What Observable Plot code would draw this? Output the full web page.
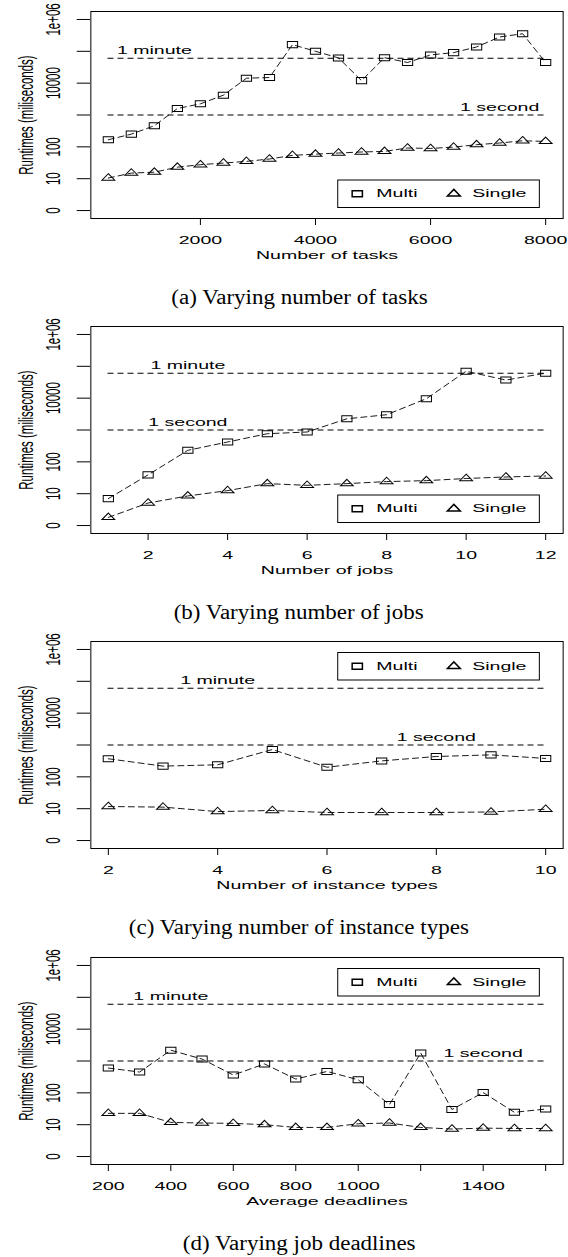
<!DOCTYPE html>
<html>
<head>
<meta charset="utf-8">
<script src="https://cdn.jsdelivr.net/npm/d3@7"></script>
<script src="https://cdn.jsdelivr.net/npm/@observablehq/plot@0.6"></script>
<style>
  body { margin: 0; background: #fff; }
  #page { position: relative; width: 568px; height: 1257px; overflow: hidden; background: #fff; }
  .panel { position: absolute; left: 0; }
  .panel svg path, .panel svg line, .panel svg rect { vector-effect: non-scaling-stroke; }
  .cap { position: absolute; left: 0; width: 598px; text-align: center;
         font-family: "Liberation Serif", "Times New Roman", serif; font-size: 20px;
         line-height: 20px; white-space: nowrap; color: #000; }
  .cap span { display: inline-block; transform: scaleX(1.15); }
</style>
</head>
<body>
<div id="page"></div>
<script>
// ---------------- data ----------------
const yTicks = [1, 10, 100, 1000, 10000, 100000, 1000000];
const yLabelValues = [1, 10, 100, 10000, 1000000];
const yLabels = ["0", "10", "100", "10000", "1e+06"];
const yTitle = "Runtimes (miliseconds)";
const minuteMs = 60000;
const secondMs = 1000;

// (a) number of tasks
const tasks = [400, 800, 1200, 1600, 2000, 2400, 2800, 3200, 3600, 4000, 4400, 4800, 5200, 5600, 6000, 6400, 6800, 7200, 7600, 8000];
const multiTasks = [167, 251, 460, 1600, 2240, 4200, 14300, 15000, 162000, 100000, 62000, 12000, 63000, 44500, 77000, 91000, 137000, 282000, 356000, 44500];
const singleTasks = [10.5, 15, 16, 23, 27.5, 31, 35, 41.5, 54, 59, 64, 69, 72, 92, 89, 98, 117, 132, 155, 148];
const tasksTicks = [2000, 4000, 6000, 8000];
const tasksTickLabels = ["2000", "4000", "6000", "8000"];

// (b) number of jobs
const jobs = [1, 2, 3, 4, 5, 6, 7, 8, 9, 10, 11, 12];
const multiJobs = [7, 39, 230, 420, 765, 865, 2250, 3020, 9600, 70000, 37000, 61000];
const singleJobs = [1.8, 5.1, 8.5, 12.5, 20.7, 18.3, 20.7, 24, 25.7, 30, 33.5, 36];
const jobsTicks = [2, 4, 6, 8, 10, 12];
const jobsTickLabels = ["2", "4", "6", "8", "10", "12"];

// (c) number of instance types
const types = [2, 3, 4, 5, 6, 7, 8, 9, 10];
const multiTypes = [370, 217, 239, 720, 200, 317, 436, 490, 378];
const singleTypes = [11.7, 11.2, 8.1, 8.8, 7.6, 7.6, 7.6, 7.9, 9.6];
const typesTicks = [2, 4, 6, 8, 10];
const typesTickLabels = ["2", "4", "6", "8", "10"];

// (d) average deadlines
const deadlines = [200, 300, 400, 500, 600, 700, 800, 900, 1000, 1100, 1200, 1300, 1400, 1500, 1600];
const multiDeadlines = [600, 450, 2180, 1150, 363, 810, 270, 470, 257, 43, 1780, 30, 102, 24.5, 31];
const singleDeadlines = [22.7, 22.7, 11.8, 11.3, 11, 10, 8.2, 8.2, 10.7, 11.3, 8.2, 7.3, 7.8, 7.6, 7.6];
const deadlinesTicks = [200, 400, 600, 800, 1000, 1200, 1400, 1600];
const deadlinesTickLabels = ["200", "400", "600", "800", "1000", "", "1400", ""];

const xTitles = ["Number of tasks", "Number of jobs", "Number of instance types", "Average deadlines"];
const captions = ["(a) Varying number of tasks", "(b) Varying number of jobs", "(c) Varying number of instance types", "(d) Varying job deadlines"];
const seriesNames = ["Multi", "Single"];
const minuteLabelX = [1200, 3, 4, 400];
const secondLabelX = [7200, 3, 8, 1400];
const legendPlacement = ["bottom", "bottom", "top", "top"];

// ---------------- layout ----------------
const W = 568, S = 1.7, W0 = W / S;
const ML = 90 / S, MR = (568 - 562.3) / S, MT = 10, FH = 207, MB = 50, H = MT + FH + MB;
const FW = W0 - ML - MR;
const panelTops = [10.5, 325.5, 641, 957];
const DASH = "6,4";
const FONT = '"Liberation Sans", Arial, Helvetica, sans-serif';

const panels = [
  {x: tasks, multi: multiTasks, single: singleTasks, ticks: tasksTicks, labels: tasksTickLabels},
  {x: jobs, multi: multiJobs, single: singleJobs, ticks: jobsTicks, labels: jobsTickLabels},
  {x: types, multi: multiTypes, single: singleTypes, ticks: typesTicks, labels: typesTickLabels},
  {x: deadlines, multi: multiDeadlines, single: singleDeadlines, ticks: deadlinesTicks, labels: deadlinesTickLabels}
];

const page = document.getElementById("page");

panels.forEach((p, k) => {
  const multiRows = p.x.map((x, i) => ({x, y: p.multi[i]}));
  const singleRows = p.x.map((x, i) => ({x, y: p.single[i]}));
  const [x0, x1] = d3.extent(p.x);
  const pad = (x1 - x0) * 0.04;
  const top = legendPlacement[k] === "top";
  const anchor = top ? "top-right" : "bottom-right";
  const legH = 27.5, legW = 118.6, legInR = 14, legInV = 11;
  const legCy = top ? legInV + legH / 2 : -(legInV + legH / 2);

  const chart = Plot.plot({
    width: W0, height: H,
    marginLeft: ML, marginRight: MR, marginTop: MT, marginBottom: MB,
    style: {fontFamily: FONT, fontSize: "11.5px", color: "black", background: "white", overflow: "visible"},
    x: {domain: [x0 - pad, x1 + pad], ticks: p.ticks, tickSize: 7, tickPadding: 10,
        tickFormat: d => p.labels[p.ticks.indexOf(d)], label: null},
    y: {type: "log", domain: [10 ** -0.25, 10 ** 6.25], ticks: yTicks, tickSize: 7.8,
        tickFormat: () => "", label: null},
    marks: [
      Plot.ruleY([minuteMs, secondMs], {y: d => d, x1: x0, x2: x1, stroke: "black", strokeWidth: 1, strokeDasharray: DASH}),
      Plot.text([{x: minuteLabelX[k], y: minuteMs, t: "1 minute"}, {x: secondLabelX[k], y: secondMs, t: "1 second"}],
        {x: "x", y: "y", text: "t", dy: -8, fill: "black"}),
      Plot.line(multiRows, {x: "x", y: "y", stroke: "black", strokeWidth: 0.9, strokeDasharray: DASH}),
      Plot.line(singleRows, {x: "x", y: "y", stroke: "black", strokeWidth: 0.9, strokeDasharray: DASH}),
      Plot.dot(multiRows, {x: "x", y: "y", symbol: "square", r: 3.4, stroke: "black", fill: "none", strokeWidth: 1}),
      Plot.dot(singleRows, {x: "x", y: "y", symbol: "triangle", r: 2.8, stroke: "black", fill: "none", strokeWidth: 1}),
      // y tick labels (rotated, R style)
      Plot.text(yLabelValues, {y: d => d, text: (d, i) => yLabels[i], frameAnchor: "left", dx: -22, rotate: -90,
        textAnchor: "middle", lineAnchor: "middle", fill: "black"}),
      // axis titles
      Plot.text([yTitle], {text: d => d, frameAnchor: "left", dx: -38, rotate: -90,
        textAnchor: "middle", lineAnchor: "middle", fill: "black"}),
      Plot.text([xTitles[k]], {text: d => d, frameAnchor: "bottom", dy: 37,
        textAnchor: "middle", lineAnchor: "middle", fill: "black"}),
      // legend
      Plot.frame({fill: "white", stroke: "black", strokeWidth: 1,
        insetLeft: FW - legInR - legW, insetRight: legInR,
        insetTop: top ? legInV : FH - legInV - legH, insetBottom: top ? FH - legInV - legH : legInV}),
      Plot.dot([seriesNames[0]], {frameAnchor: anchor, dx: -121.1, dy: legCy, symbol: "square", r: 3.4, stroke: "black", fill: "none"}),
      Plot.text([seriesNames[0]], {frameAnchor: anchor, dx: -109.9, dy: legCy, text: d => d,
        textAnchor: "start", lineAnchor: "middle", fill: "black"}),
      Plot.dot([seriesNames[1]], {frameAnchor: anchor, dx: -64.3, dy: legCy, symbol: "triangle", r: 2.8, stroke: "black", fill: "none"}),
      Plot.text([seriesNames[1]], {frameAnchor: anchor, dx: -53.5, dy: legCy, text: d => d,
        textAnchor: "start", lineAnchor: "middle", fill: "black"}),
      Plot.frame({stroke: "black", strokeWidth: 1})
    ]
  });
  chart.setAttribute("width", W);
  chart.setAttribute("height", H);
  chart.setAttribute("preserveAspectRatio", "none");
  chart.style.width = W + "px";
  chart.style.height = H + "px";
  chart.style.maxWidth = "none";

  const div = document.createElement("div");
  div.className = "panel";
  div.style.top = (panelTops[k] - MT) + "px";
  div.appendChild(chart);
  page.appendChild(div);

  const cap = document.createElement("div");
  cap.className = "cap";
  cap.style.top = (panelTops[k] + 293 - 16.75) + "px";
  const span = document.createElement("span");
  span.textContent = captions[k];
  cap.appendChild(span);
  page.appendChild(cap);
});
</script>
</body>
</html>
